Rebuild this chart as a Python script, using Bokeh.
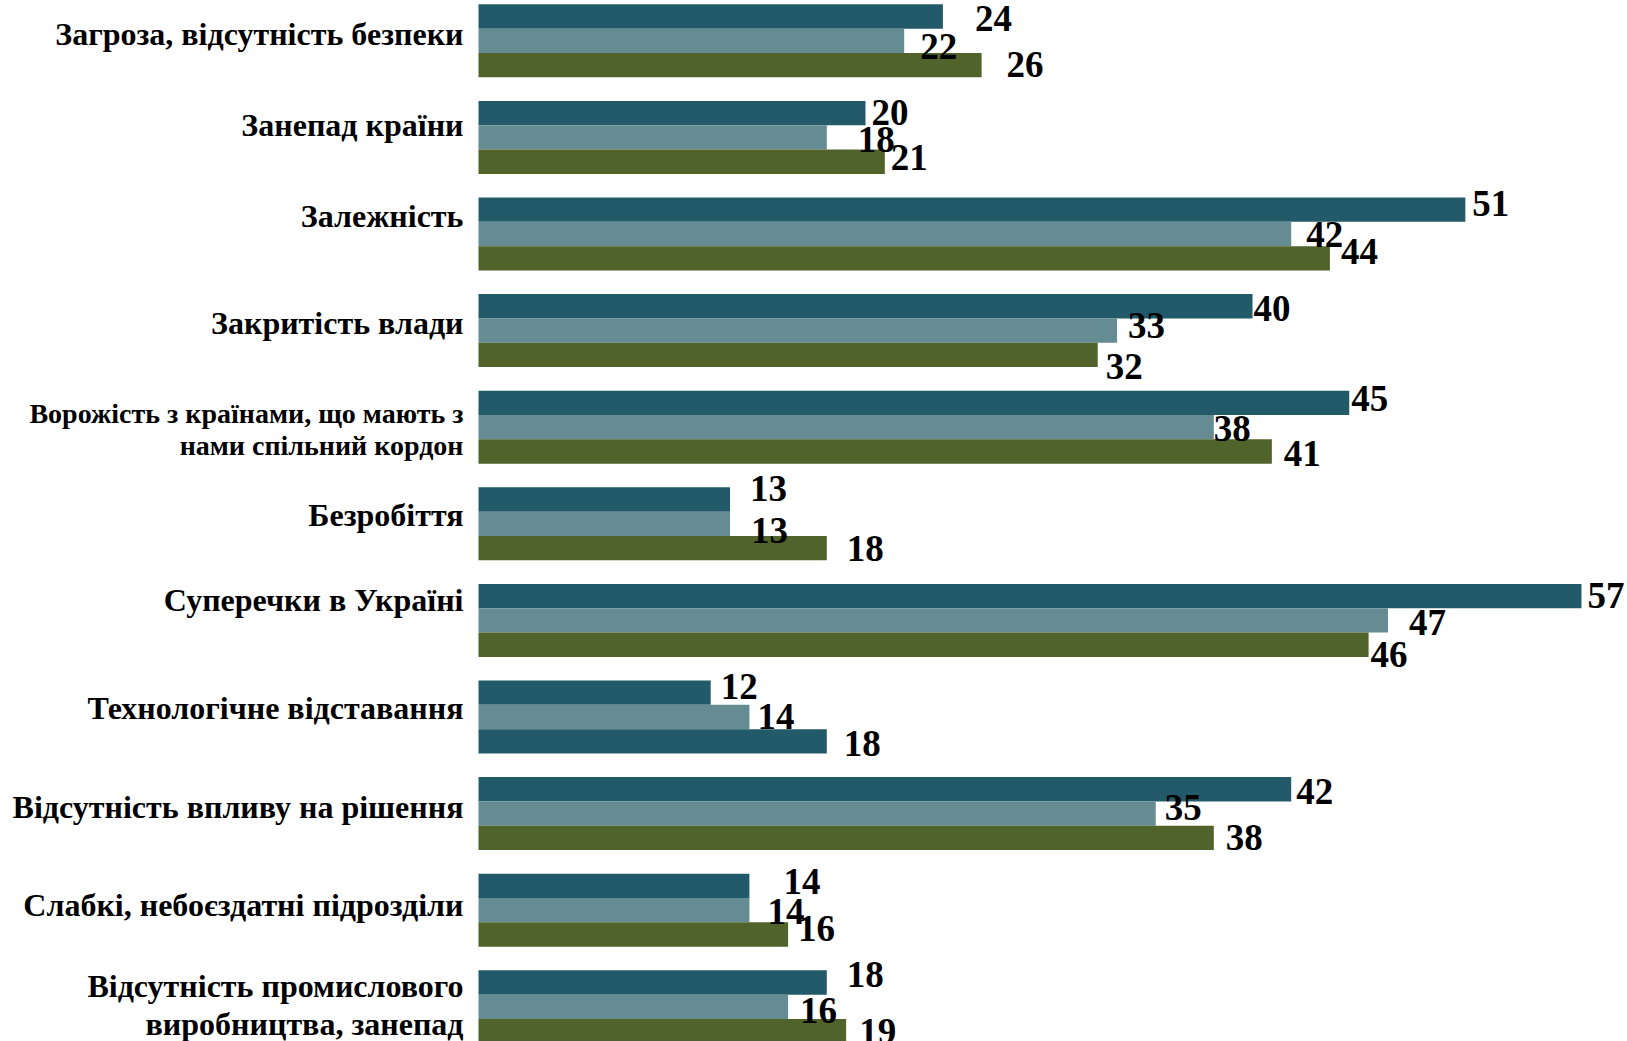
from bokeh.plotting import figure
from bokeh.models import Range1d, ColumnDataSource
from bokeh.core.properties import value
from bokeh.embed import file_html
from bokeh.resources import INLINE

categories = [
    "Загроза, відсутність безпеки",
    "Занепад країни",
    "Залежність",
    "Закритість влади",
    "Ворожість з країнами, що мають з\nнами спільний кордон",
    "Безробіття",
    "Суперечки в Україні",
    "Технологічне відставання",
    "Відсутність впливу на рішення",
    "Слабкі, небоєздатні підрозділи",
    "Відсутність промислового\nвиробництва, занепад",
]
series_a = [24, 20, 51, 40, 45, 13, 57, 12, 42, 14, 18]
series_b = [22, 18, 42, 33, 38, 13, 47, 14, 35, 14, 16]
series_c = [26, 21, 44, 32, 41, 18, 46, 18, 38, 16, 19]

# styles / positions (not data)
C_DARK = "#235a69"
C_GREY = "#658b93"
C_OLIVE = "#50632a"
series_colors = [C_DARK, C_GREY, C_OLIVE]
# one bar in the reference is drawn in the dark colour
color_override = {(2, 7): C_DARK}

# value label offsets (px): dx from bar end, dy (down positive)
lab_dx = [
    [32, 6, 7, 1, 2, 20, 6, 10, 5, 34, 20],
    [16, 31, 15, 11, 0, 21, 21, 8, 9, 18, 12],
    [25, 6, 11, 8, 12, 20, 2, 17, 12, 10, 13],
]
lab_dy = [
    [2, -1, -6, 2, -4, -11, -1, -6, 2, -4, -8],
    [6, 2, 0, -5, 1, 7, 2, -1, -6, 1, 4],
    [-1, -4, -7, 12, 2, 0, 10, 2, 0, -6, 0],
]
cat_dy = [-7, -12, -18, -8, 2, -9, -20, -9, -7, -5, -2]
cat_size = [32, 32, 32, 32, 28, 32, 32, 32, 32, 32, 32]
cat_lh = [0, 0, 0, 0, 32, 0, 0, 0, 0, 0, 38]

W, H = 1627, 1041
x0_px = 478.0
ppu = 19.35
pitch = 96.6
top_px = 40.3
bh = 0.252

x_range = Range1d(-x0_px / ppu, (W - x0_px) / ppu)
y_range = Range1d(-(H - top_px) / pitch, top_px / pitch)

p = figure(width=W, height=H, x_range=x_range, y_range=y_range,
           output_backend="svg", toolbar_location=None,
           min_border=0, outline_line_color=None)
p.axis.visible = False
p.grid.visible = False
p.background_fill_color = "white"

series = [series_a, series_b, series_c]
bx, by, bc = [], [], []
tx, ty, tt, txo, tyo = [], [], [], [], []
for s, vals in enumerate(series):
    for i, v in enumerate(vals):
        yc = -i + bh * (1 - s)
        bx.append(v)
        by.append(yc)
        bc.append(color_override.get((s, i), series_colors[s]))
        tx.append(v)
        ty.append(yc)
        tt.append(str(v))
        txo.append(lab_dx[s][i])
        tyo.append(lab_dy[s][i])

p.hbar(y="y", right="x", left=0, height=bh, color="c", line_color=None,
       source=ColumnDataSource(dict(x=bx, y=by, c=bc)))

p.text(x="x", y="y", text="t", x_offset="xo", y_offset="yo",
       source=ColumnDataSource(dict(x=tx, y=ty, t=tt, xo=txo, yo=tyo)),
       text_font=value("Liberation Serif"), text_font_style="bold",
       text_font_size="37px", text_color="black",
       text_align="left", text_baseline="middle")

cx, cy, ct, cyo, cs = [], [], [], [], []
for i, c in enumerate(categories):
    lines = c.split("\n")
    k = len(lines)
    for j, ln in enumerate(lines):
        off = cat_dy[i] + (j - (k - 1) / 2) * cat_lh[i]
        cx.append(0)
        cy.append(-i)
        ct.append(ln)
        cyo.append(off)
        cs.append(f"{cat_size[i]}px")

p.text(x="x", y="y", text="t", y_offset="yo", x_offset=-15,
       source=ColumnDataSource(dict(x=cx, y=cy, t=ct, yo=cyo, s=cs)),
       text_font=value("Liberation Serif"), text_font_style="bold",
       text_font_size="s", text_color="black",
       text_align="right", text_baseline="middle")

open("out.html", "w").write(file_html(p, INLINE))
